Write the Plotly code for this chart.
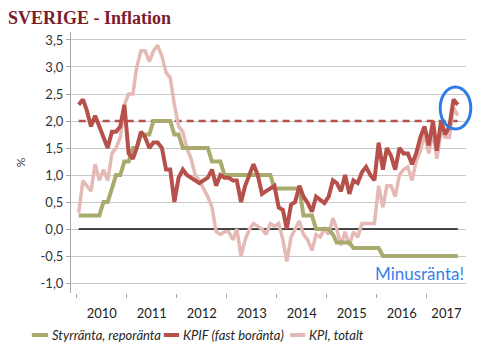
import pandas as pd
import plotly.graph_objects as go

# ---------------- data (monthly, Jan 2010 - Aug 2017) ----------------
repo = [0.25, 0.25, 0.25, 0.25, 0.25, 0.25, 0.5, 0.5, 0.75, 1.0, 1.0, 1.25,
        1.25, 1.5, 1.5, 1.75, 1.75, 1.75, 2.0, 2.0, 2.0, 2.0, 2.0, 1.75,
        1.75, 1.5, 1.5, 1.5, 1.5, 1.5, 1.5, 1.5, 1.25, 1.25, 1.25, 1.0,
        1.0, 1.0, 1.0, 1.0, 1.0, 1.0, 1.0, 1.0, 1.0, 1.0, 1.0, 0.75,
        0.75, 0.75, 0.75, 0.75, 0.75, 0.75, 0.25, 0.25, 0.25, 0.0, 0.0, 0.0,
        0.0, -0.1, -0.25, -0.25, -0.25, -0.25, -0.35, -0.35, -0.35, -0.35, -0.35, -0.35,
        -0.35, -0.5, -0.5, -0.5, -0.5, -0.5, -0.5, -0.5, -0.5, -0.5, -0.5, -0.5,
        -0.5, -0.5, -0.5, -0.5, -0.5, -0.5, -0.5, -0.5]

kpif = [2.3, 2.4, 2.2, 1.9, 2.1, 1.9, 1.7, 1.5, 1.8, 1.8, 1.9, 2.3,
        1.4, 1.3, 1.5, 1.8, 1.7, 1.5, 1.6, 1.6, 1.5, 1.1, 1.1, 0.5,
        0.95, 1.1, 1.0, 0.95, 0.9, 0.85, 0.9, 0.95, 1.1, 0.8, 1.0, 0.95,
        0.95, 0.9, 0.9, 0.5, 0.8, 1.0, 1.2, 1.0, 0.65, 0.7, 0.75, 0.8,
        0.4, 0.35, 0.0, 0.45, 0.5, 0.8, 0.6, 0.48, 0.32, 0.6, 0.54, 0.48,
        0.6, 0.9, 0.85, 0.7, 1.0, 0.65, 0.9, 0.85, 1.05, 1.15, 1.0, 0.9,
        1.6, 1.1, 1.5, 1.35, 1.1, 1.5, 1.4, 1.4, 1.2, 1.4, 1.7, 1.9,
        1.55, 2.0, 1.45, 2.0, 1.75, 1.9, 2.4, 2.3]

kpi = [0.3, 0.9, 0.8, 0.7, 1.2, 0.9, 1.1, 0.9, 1.4, 1.5, 1.7, 2.3,
       2.5, 2.5, 3.0, 3.3, 3.3, 3.1, 3.3, 3.4, 3.2, 2.9, 2.8, 2.3,
       1.9, 1.8, 1.5, 1.3, 1.0, 0.9, 0.75, 0.6, 0.4, -0.05, -0.1, -0.05,
       -0.05, -0.2, 0.0, -0.5, -0.2, 0.0, 0.1, 0.05, 0.0, -0.1, 0.1, 0.05,
       0.1, -0.2, -0.6, -0.15, 0.0, 0.15, -0.1, -0.2, -0.4, -0.1, -0.15, 0.0,
       -0.1, 0.2, 0.0, -0.3, -0.05, -0.3, -0.05, -0.15, 0.1, 0.1, 0.1, 0.1,
       0.8, 0.4, 0.8, 0.8, 0.6, 1.0, 1.1, 1.15, 0.9, 1.25, 1.45, 1.75,
       1.4, 1.8, 1.3, 1.8, 1.7, 1.7, 2.25, 2.1]

inflation_target = 2.0
years = [2010, 2011, 2012, 2013, 2014, 2015, 2016, 2017]
y_ticks = [-1.0, -0.5, 0.0, 0.5, 1.0, 1.5, 2.0, 2.5, 3.0, 3.5]
y_ticktext = [f"{v:.1f}".replace(".", ",") for v in y_ticks]

series_names = ["Styrränta, reporänta", "KPIF (fast boränta)", "KPI, totalt"]
colors = ["#a9aa6e", "#b5504a", "#e5b9b6"]

dates = pd.date_range("2010-01-01", periods=len(kpif), freq="MS") + pd.Timedelta(days=14)

# ---------------- layout geometry ----------------
# the page body has an 8px margin, so the figure is drawn 8px smaller
OFF = 8
W, H = 488 - OFF, 358 - OFF
L, R, T, B = 45, 22, 24, 65
PW, PH = W - L - R, H - T - B

x_start = pd.Timestamp("2009-11-20")
x_end = pd.Timestamp("2017-10-14")
year_starts = [pd.Timestamp(f"{y}-01-01") for y in years]
label_pos = []
for y in years:
    a = pd.Timestamp(f"{y}-01-01")
    b = min(pd.Timestamp(f"{y + 1}-01-01"), x_end)
    label_pos.append(a + (b - a) / 2)


def px(xp):
    """window pixel -> paper x"""
    return (xp - OFF - L) / PW


def py(yp):
    """window pixel -> paper y"""
    return (H - B - (yp - OFF)) / PH


fig = go.Figure()

# reference lines spanning the data period
fig.add_trace(go.Scatter(x=[dates[0], dates[-1]], y=[0, 0], mode="lines",
                         line=dict(color="#111111", width=1.5), showlegend=False, hoverinfo="skip"))
fig.add_trace(go.Scatter(x=[dates[0], dates[-1]], y=[inflation_target] * 2, mode="lines",
                         line=dict(color="#b5504a", width=2.5, dash="7px,5px"),
                         showlegend=False, hoverinfo="skip"))

fig.add_trace(go.Scatter(x=dates, y=kpi, mode="lines", name=series_names[2],
                         line=dict(color=colors[2], width=3.5), showlegend=False))
fig.add_trace(go.Scatter(x=dates, y=repo, mode="lines", name=series_names[0],
                         line=dict(color=colors[0], width=4), showlegend=False))
fig.add_trace(go.Scatter(x=dates, y=kpif, mode="lines", name=series_names[1],
                         line=dict(color=colors[1], width=4), showlegend=False))

shapes = []
annotations = []

# manual legend (short swatches as in the original)
legend_items = [(12, 29, 31), (150, 166, 168), (282, 298, 300)]
leg_y = 335
for (sx0, sx1, tx), name, col in zip(legend_items, series_names, colors):
    shapes.append(dict(type="line", xref="paper", yref="paper",
                       x0=px(sx0), x1=px(sx1), y0=py(leg_y), y1=py(leg_y),
                       line=dict(color=col, width=4)))
    annotations.append(dict(xref="paper", yref="paper", x=px(tx), y=py(leg_y),
                            xanchor="left", yanchor="middle", showarrow=False,
                            text=f"<i>{name}</i>",
                            font=dict(family="Lato", size=13, color="#262626")))

# blue highlight ellipse
shapes.append(dict(type="circle", xref="paper", yref="paper",
                   x0=px(439), x1=px(471), y0=py(129), y1=py(87),
                   line=dict(color="#2f7be6", width=3)))

annotations.append(dict(xref="paper", yref="paper", x=1.0, y=py(273),
                        xanchor="right", yanchor="middle", showarrow=False,
                        text="Minusränta!",
                        font=dict(family="Lato", size=17, color="#3a80e6")))

fig.update_layout(
    width=W, height=H,
    margin=dict(l=L, r=R, t=T, b=B),
    paper_bgcolor="white", plot_bgcolor="white",
    title=dict(text="<b>SVERIGE - Inflation</b>", x=0, xanchor="left",
               y=1 - (18 - OFF) / H, yanchor="middle",
               font=dict(family="Liberation Serif", size=18, color="#7b1c2e")),
    shapes=shapes, annotations=annotations,
    showlegend=False,
)

fig.update_xaxes(
    type="date", range=[x_start, x_end],
    tickvals=label_pos, ticktext=[str(y) for y in years],
    ticks="outside", ticklen=8, tickcolor="rgba(0,0,0,0)",
    tickfont=dict(family="Lato", size=13, color="#222222"),
    showgrid=False, zeroline=False, showline=False,
    minor=dict(tickvals=year_starts, ticks="outside", ticklen=4,
               tickcolor="#a6a6a6", showgrid=False),
)

fig.update_yaxes(
    range=[-1.185, 3.648],
    tickvals=y_ticks, ticktext=y_ticktext,
    ticks="outside", ticklen=4, tickcolor="#a6a6a6",
    tickfont=dict(family="Lato", size=13, color="#333333"),
    showgrid=True, gridcolor="#c8c8c8", gridwidth=1,
    zeroline=False, showline=True, linecolor="#a6a6a6", linewidth=1,
    title=dict(text="%", font=dict(family="Lato", size=12, color="#444444"), standoff=12),
)

fig.write_html("out.html")
